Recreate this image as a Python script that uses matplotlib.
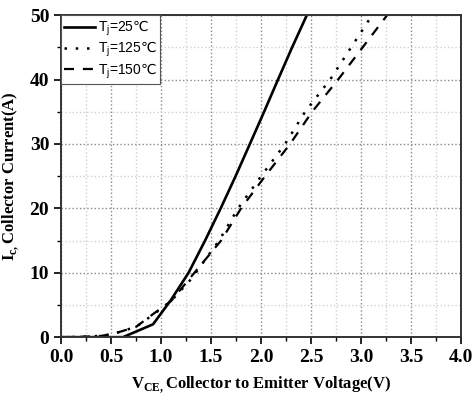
import matplotlib.pyplot as plt
from matplotlib.ticker import MultipleLocator

# output characteristics, Ic vs Vce
vce_25 = [0.0, 0.3, 0.62, 0.92, 1.10, 1.275, 1.44, 1.596, 1.745, 1.888, 2.03, 2.169, 2.31, 2.457]
ic_25 = [0.0, 0.0, 0.0, 2.0, 5.8, 10.0, 15.0, 20.0, 25.0, 30.0, 35.0, 40.0, 45.0, 50.0]

vce_125 = [0.0, 0.2, 0.4, 0.52, 0.75, 0.93, 1.10, 1.30, 1.58, 1.77, 2.0, 2.24, 2.44, 2.69, 3.11]
ic_125 = [0.0, 0.05, 0.2, 0.5, 1.6, 3.6, 5.6, 9.0, 15.0, 20.0, 25.0, 30.0, 35.0, 40.0, 50.0]

vce_150 = [0.0, 0.2, 0.4, 0.52, 0.75, 0.93, 1.10, 1.28, 1.60, 1.80, 2.04, 2.29, 2.51, 2.77, 3.26]
ic_150 = [0.0, 0.05, 0.2, 0.5, 1.6, 3.7, 5.6, 9.0, 15.0, 20.0, 25.0, 30.0, 35.0, 40.0, 50.0]

plt.rcParams["font.family"] = ["Liberation Serif", "DejaVu Serif"]
plt.rcParams["mathtext.fontset"] = "custom"
plt.rcParams["mathtext.rm"] = "DejaVu Sans"

fig = plt.figure(figsize=(4.73, 3.99), dpi=100)
ax = fig.add_axes([0.129, 0.155, 0.846, 0.807])

ax.plot(vce_25, ic_25, color="black", linewidth=1.9, linestyle="-",
        label=r"T$_\mathregular{j}$=25$\mathrm{℃}$")
ax.plot(vce_125, ic_125, color="black", linewidth=1.8, linestyle=(0, (1, 3.5)),
        label=r"T$_\mathregular{j}$=125$\mathrm{℃}$")
ax.plot(vce_150, ic_150, color="black", linewidth=1.6, linestyle=(0, (4.5, 4)),
        label=r"T$_\mathregular{j}$=150$\mathrm{℃}$")

ax.set_xlim(0, 4.0)
ax.set_ylim(0, 50)
ax.xaxis.set_minor_locator(MultipleLocator(0.25))
ax.yaxis.set_minor_locator(MultipleLocator(5))

ax.grid(which="major", linestyle=":", color="#888888", linewidth=1.0)
ax.grid(which="minor", linestyle=":", color="#d0d0d0", linewidth=1.0)
ax.set_axisbelow(True)

ax.tick_params(which="major", direction="out", length=5, width=1.2,
               top=False, right=False)
ax.tick_params(which="minor", direction="out", length=3, width=1.0,
               top=False, right=False)
for sp in ax.spines.values():
    sp.set_linewidth(1.4)
    sp.set_color("#333333")

ax.set_xticks([0.0, 0.5, 1.0, 1.5, 2.0, 2.5, 3.0, 3.5, 4.0])
ax.set_xticklabels(["0.0", "0.5", "1.0", "1.5", "2.0", "2.5", "3.0", "3.5", "4.0"],
                   fontsize=14, fontweight="bold")
ax.set_yticks([0, 10, 20, 30, 40, 50])
ax.set_yticklabels(["0", "10", "20", "30", "40", "50"], fontsize=14, fontweight="bold")

ax.set_xlabel(r"V$_\mathregular{CE,}$Collector to Emitter Voltage(V)",
              fontsize=12, fontweight="bold", labelpad=6)
ax.set_ylabel(r"I$_\mathregular{c,}$Collector Current(A)",
              fontsize=12, fontweight="bold", labelpad=6)

leg = ax.legend(loc="upper left", borderaxespad=0.0, fancybox=False,
                framealpha=1, edgecolor="#555555", handlelength=2.2,
                handletextpad=0.2, borderpad=0.25, labelspacing=0.15,
                prop={"family": ["Liberation Sans", "DejaVu Sans"], "size": 10})
leg.get_frame().set_linewidth(0.8)

fig.savefig("out.png", dpi=100)
